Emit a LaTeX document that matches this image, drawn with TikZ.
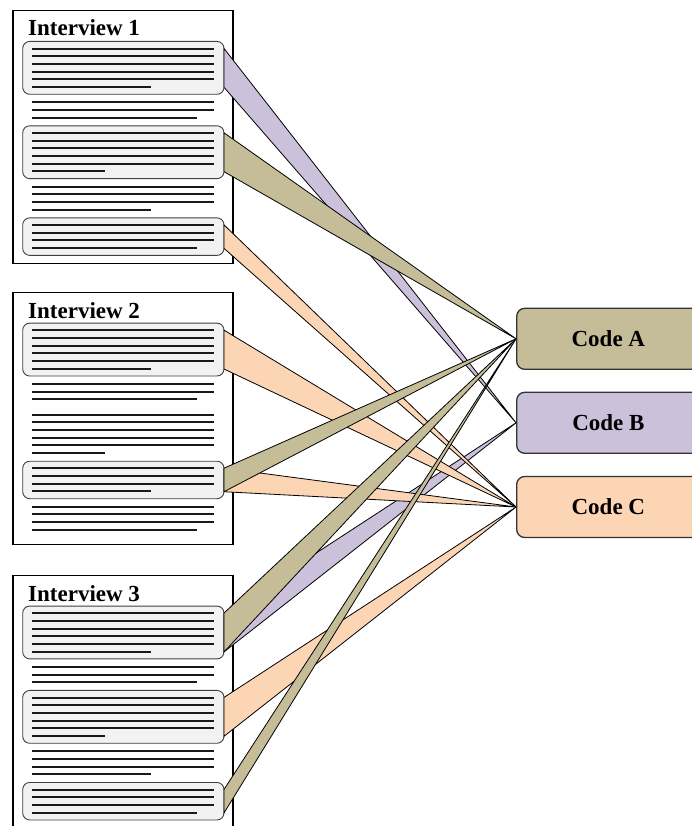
\documentclass[tikz,border=0pt]{standalone}
\usepackage{fontspec}
\setmainfont{Liberation Serif}
\definecolor{teinteA}{HTML}{C4BD97}
\definecolor{teinteB}{HTML}{CCC1DA}
\definecolor{teinteC}{HTML}{FCD5B5}
\begin{document}
\begin{tikzpicture}[x=1pt,y=-1pt]
		% Styles (MODIFIABLES)
		\tikzstyle{page}=[draw=black,line width=1.2pt,fill=white]
		\tikzstyle{titre}=[anchor=base west,inner sep=0pt,font=\fontsize{23}{27}\selectfont\bfseries]
		\tikzstyle{extrait}=[draw=black!75,line width=0.9pt,fill=black!5,rounded corners=7pt,minimum width=201.3pt,inner sep=0pt,outer sep=0pt]
		\tikzstyle{ligne}=[line width=2pt,black!90]
		\tikzstyle{code}=[draw=black!80,line width=1.3pt,rounded corners=8pt,minimum width=183.3pt,minimum height=61pt,font=\fontsize{23}{27}\selectfont\bfseries]
		\tikzstyle{lien}=[draw=black,line width=0.8pt,line join=miter]
		% Dimensions (MODIFIABLES)
		\def\Interligne{7.67}
		\def\HautPage{252.4}
		\def\HautSix{52.85}
		\def\HautQuatre{37.5}
		\def\PageA{10.7}
		\def\PageB{292.4}
		\def\PageC{575.3}
		% Lignes de texte : #1 haut de page, #2 et #3 premiere et derniere ligne, #4 fin de la derniere
		\def\Lignes#1#2#3#4{\foreach \k in {#2,...,#3}{%
				\pgfmathsetmacro{\Fin}{ifthenelse(\k==#3,#4,214)}%
				\draw[ligne] (32,{#1+38+\k*\Interligne}) -- (\Fin,{#1+38+\k*\Interligne});}}
		\def\Texte#1{\Lignes{#1}{0}{5}{151}\Lignes{#1}{7}{9}{197}\Lignes{#1}{11}{16}{105}%
			\Lignes{#1}{18}{21}{151}\Lignes{#1}{23}{26}{197}}
		%
		\useasboundingbox (0,0) rectangle (692,826);
		\clip (0,0) rectangle (692,826);
		% Pages
		\draw[page] (13,\PageA) rectangle (233,{\PageA+\HautPage});
		\draw[page] (13,\PageB) rectangle (233,{\PageB+\HautPage});
		\draw[page] (13,\PageC) rectangle (233,{\PageC+\HautPage});
		\node[titre] (T1) at (28,{\PageA+25.2}) {Interview 1};
		\node[titre] (T2) at (28,{\PageB+25.7}) {Interview 2};
		\node[titre] (T3) at (28,{\PageC+26.2}) {Interview 3};
		% Extraits
		\node[extrait,minimum height=\HautSix] (I1a) at (123.35,{\PageA+38+2.5*\Interligne}) {};
		\node[extrait,minimum height=\HautSix] (I1b) at (123.35,{\PageA+38+13.5*\Interligne}) {};
		\node[extrait,minimum height=\HautQuatre] (I1c) at (123.35,{\PageA+38+24.5*\Interligne}) {};
		\node[extrait,minimum height=\HautSix] (I2a) at (123.35,{\PageB+38+2.5*\Interligne}) {};
		\node[extrait,minimum height=\HautQuatre] (I2b) at (123.35,{\PageB+38+19.5*\Interligne}) {};
		\node[extrait,minimum height=\HautSix] (I3a) at (123.35,{\PageC+38+2.5*\Interligne}) {};
		\node[extrait,minimum height=\HautSix] (I3b) at (123.35,{\PageC+38+13.5*\Interligne}) {};
		\node[extrait,minimum height=\HautQuatre] (I3c) at (123.35,{\PageC+38+24.5*\Interligne}) {};
		\Texte{\PageA}
		\Texte{\PageB}
		\Texte{\PageC}
		% Codes
		\node[code,fill=teinteA] (CodeA) at (608.35,338.8) {Code A};
		\node[code,fill=teinteB] (CodeB) at (608.35,422.8) {Code B};
		\node[code,fill=teinteC] (CodeC) at (608.35,507) {Code C};
		% Liens (B et C dessous, A dessus)
		\draw[lien,fill=teinteB] ([yshift=-7pt]I1a.north east) -- (CodeB.west) -- ([yshift=7pt]I1a.south east) -- cycle;
		\draw[lien,fill=teinteB] ([yshift=-7pt]I3a.north east) -- (CodeB.west) -- ([yshift=7pt]I3a.south east) -- cycle;
		\draw[lien,fill=teinteC] ([yshift=-7pt]I1c.north east) -- (CodeC.west) -- ([yshift=7pt]I1c.south east) -- cycle;
		\draw[lien,fill=teinteC] ([yshift=-7pt]I2a.north east) -- (CodeC.west) -- ([yshift=7pt]I2a.south east) -- cycle;
		\draw[lien,fill=teinteC] ([yshift=-7pt]I2b.north east) -- (CodeC.west) -- ([yshift=7pt]I2b.south east) -- cycle;
		\draw[lien,fill=teinteC] ([yshift=-7pt]I3b.north east) -- (CodeC.west) -- ([yshift=7pt]I3b.south east) -- cycle;
		\draw[lien,fill=teinteA] ([yshift=-7pt]I1b.north east) -- (CodeA.west) -- ([yshift=7pt]I1b.south east) -- cycle;
		\draw[lien,fill=teinteA] ([yshift=-7pt]I2b.north east) -- (CodeA.west) -- ([yshift=7pt]I2b.south east) -- cycle;
		\draw[lien,fill=teinteA] ([yshift=-7pt]I3a.north east) -- (CodeA.west) -- ([yshift=7pt]I3a.south east) -- cycle;
		\draw[lien,fill=teinteA] ([yshift=-7pt]I3c.north east) -- (CodeA.west) -- ([yshift=7pt]I3c.south east) -- cycle;
	\end{tikzpicture}
\end{document}
